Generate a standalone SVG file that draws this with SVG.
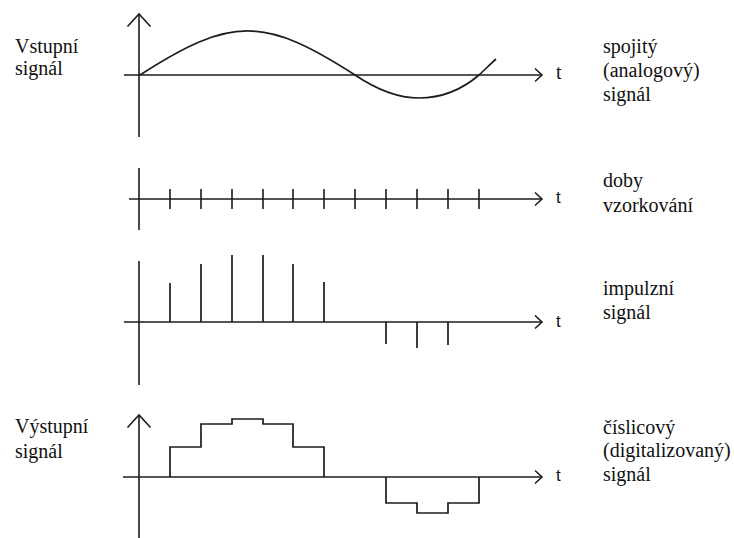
<svg xmlns="http://www.w3.org/2000/svg" width="734" height="538" viewBox="0 0 734 538">
  <style>
    .ax { fill: none; stroke: #1c1c1c; stroke-width: 1.6; }
    .sig { fill: none; stroke: #1c1c1c; stroke-width: 1.7; stroke-linejoin: miter; }
    .lbl { font-size: 20px; fill: #111; }
    .t-serif { font-size: 20px; fill: #111; }
    .t-sans { font-size: 17px; fill: #111; }
  </style>
  <defs>
    <!-- open chevron heads: small one for time axes, wide one for value axes -->
    <marker id="head-sm" markerUnits="userSpaceOnUse" markerWidth="20" markerHeight="20" viewBox="-10 -10 20 20" refX="0" refY="0" orient="auto" overflow="visible">
      <path d="M-7,-6.5 L0,0 L-7,6.5" fill="none" stroke="#1c1c1c" stroke-width="1.6"/>
    </marker>
    <marker id="head-lg" markerUnits="userSpaceOnUse" markerWidth="30" markerHeight="30" viewBox="-15 -15 30 30" refX="0" refY="0" orient="auto" overflow="visible">
      <path d="M-12.5,-11.5 L0,0 L-12.5,11.5" fill="none" stroke="#1c1c1c" stroke-width="1.6"/>
    </marker>
  </defs>

  <!-- continuous input -->
  <g id="analog">
    <line class="ax" x1="139" y1="137" x2="139" y2="14" marker-end="url(#head-lg)"/>
    <line class="ax" x1="124" y1="75" x2="542" y2="75" marker-end="url(#head-sm)"/>
    <path class="sig" d="M140,75 C231,16.3 264,16.3 355,75 C375,88.5 396,98 419,98 C444,98 465,87 479,75 C485,69.5 490,64.5 496,59"/>
    <g font-family="Liberation Serif, Times New Roman, serif">
      <text class="t-serif" x="556" y="79">t</text>
      <text class="lbl" x="15" y="53">Vstupní</text>
      <text class="lbl" x="15" y="75">signál</text>
      <text class="lbl" x="603" y="53">spojitý</text>
      <text class="lbl" x="603" y="77">(analogový)</text>
      <text class="lbl" x="603" y="101">signál</text>
    </g>
  </g>

  <!-- sampling instants -->
  <g id="sampling">
    <line class="ax" x1="139" y1="168" x2="139" y2="230"/>
    <line class="ax" x1="129" y1="199" x2="542" y2="199" marker-end="url(#head-sm)"/>
    <path class="ax" d="M170,189V209 M201,189V209 M232,189V209 M263,189V209 M293,189V209 M324,189V209 M355,189V209 M386,189V209 M417,189V209 M448,189V209 M479,189V209"/>
    <text class="t-sans" x="556" y="203" font-family="Liberation Sans, Arial, sans-serif">t</text>
    <g font-family="Liberation Serif, Times New Roman, serif">
      <text class="lbl" x="603" y="187">doby</text>
      <text class="lbl" x="603" y="212">vzorkování</text>
    </g>
  </g>

  <!-- sampled pulses -->
  <g id="pulses">
    <line class="ax" x1="139" y1="261" x2="139" y2="385"/>
    <line class="ax" x1="124" y1="322" x2="542" y2="322" marker-end="url(#head-sm)"/>
    <path class="sig" d="M170,322V283 M201,322V264 M232,322V255 M263,322V255 M293,322V264 M324,322V282 M386,322V344 M417,322V348 M448,322V345"/>
    <text class="t-sans" x="556" y="327" font-family="Liberation Sans, Arial, sans-serif">t</text>
    <g font-family="Liberation Serif, Times New Roman, serif">
      <text class="lbl" x="603" y="295">impulzní</text>
      <text class="lbl" x="603" y="319">signál</text>
    </g>
  </g>

  <!-- digital output -->
  <g id="digital">
    <line class="ax" x1="139" y1="538" x2="139" y2="415" marker-end="url(#head-lg)"/>
    <line class="ax" x1="123" y1="477" x2="542" y2="477" marker-end="url(#head-sm)"/>
    <path class="sig" d="M170,477V447H201V424H232V419H263V424H293V447H324V477"/>
    <path class="sig" d="M386,477V503H417V513H448V503H479V477"/>
    <text class="t-sans" x="556" y="481" font-family="Liberation Sans, Arial, sans-serif">t</text>
    <g font-family="Liberation Serif, Times New Roman, serif">
      <text class="lbl" x="15" y="433">Výstupní</text>
      <text class="lbl" x="15" y="458">signál</text>
      <text class="lbl" x="603" y="434">číslicový</text>
      <text class="lbl" x="603" y="457">(digitalizovaný)</text>
      <text class="lbl" x="603" y="481">signál</text>
    </g>
  </g>
</svg>
